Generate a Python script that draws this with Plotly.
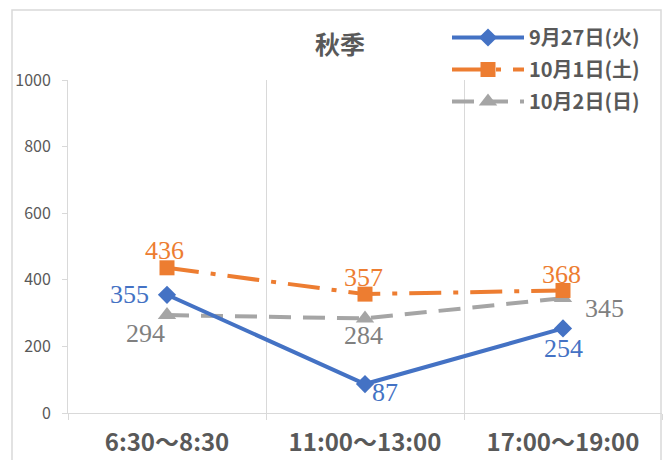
import plotly.graph_objects as go

categories = ["6:30～8:30", "11:00～13:00", "17:00～19:00"]
series_names = ["9月27日(火)", "10月1日(土)", "10月2日(日)"]
s_sep27 = [355, 87, 254]
s_oct1 = [436, 357, 368]
s_oct2 = [294, 284, 345]

LABEL_FONT = "Liberation Serif"
UI_FONT = "Noto Sans CJK JP"
AXIS_GRAY = "#D9D9D9"
TEXT_GRAY = "#595959"

# style: pixel offsets (dx, dy) of each data label relative to its point
label_offsets = {
    "sep27": [(-38, 0), (20, -8), (0, -20)],
    "oct1": [(-3, 17), (-2, 17), (-2, 16)],
    "oct2": [(-22, -18), (-2, -17), (41, -10)],
}

series = [
    # key, values, name, color, label color, dash, symbol, marker size, legend rank
    ("oct2", s_oct2, series_names[2], "#A5A5A5", "#808080", "22px,12px", "triangle-up", 16, 3),
    ("oct1", s_oct1, series_names[1], "#ED7D31", "#ED7D31", "32px,12px,5px,12px", "square", 15, 2),
    ("sep27", s_sep27, series_names[0], "#4472C4", "#4472C4", "solid", "diamond", 14, 1),
]

fig = go.Figure()
annotations = []
for key, vals, name, color, lcolor, dash, symbol, msize, rank in series:
    fig.add_trace(go.Scatter(
        x=categories, y=vals, name=name, legendgroup=key, legendrank=rank,
        mode="lines+markers",
        line=dict(color=color, width=4, dash=dash),
        marker=dict(symbol=symbol, size=msize, color=color),
    ))
    for cat, v, (dx, dy) in zip(categories, vals, label_offsets[key]):
        annotations.append(dict(
            x=cat, y=v, xref="x", yref="y", text=str(v), showarrow=False,
            xshift=dx, yshift=dy, xanchor="center", yanchor="middle",
            font=dict(family=LABEL_FONT, size=26, color=lcolor),
        ))

fig.update_layout(
    width=667, height=460,
    margin=dict(l=68, r=5, t=80, b=47, autoexpand=False),
    paper_bgcolor="white", plot_bgcolor="white",
    title=dict(text="<b>秋季</b>", x=340/667, xanchor="center",
               y=1 - 45/460, yanchor="middle",
               font=dict(family=UI_FONT, size=25, color=TEXT_GRAY)),
    showlegend=True,
    legend=dict(xref="container", yref="container",
                x=447/667, y=1 - 18/460, xanchor="left", yanchor="top",
                itemwidth=72, tracegroupgap=3,
                font=dict(family=UI_FONT, size=20, color=TEXT_GRAY, weight="bold"),
                bgcolor="rgba(0,0,0,0)"),
    xaxis=dict(type="category", tickson="boundaries", showgrid=True,
               gridcolor=AXIS_GRAY, gridwidth=1, tickangle=0,
               showline=True, linecolor=AXIS_GRAY, linewidth=1,
               ticks="outside", ticklen=6, tickcolor=AXIS_GRAY,
               ticklabelstandoff=8,
               tickfont=dict(family=UI_FONT, size=24, color=TEXT_GRAY, weight="bold"),
               range=[-0.5, 2.5], fixedrange=True),
    yaxis=dict(range=[0, 1000], dtick=200, showgrid=False,
               showline=True, linecolor=AXIS_GRAY, linewidth=1,
               ticks="outside", ticklen=5, tickcolor=AXIS_GRAY,
               ticklabelstandoff=8,
               tickfont=dict(family=UI_FONT, size=16, color=TEXT_GRAY),
               zeroline=False),
    annotations=annotations,
    shapes=[dict(type="rect", xref="paper", yref="paper",
                 x0=(12 - 68) / 594, x1=(661 - 68) / 594,
                 y0=-0.3, y1=(413 - 10) / 333,
                 line=dict(color=AXIS_GRAY, width=1.5), layer="below")],
)

fig.write_html("out.html")
